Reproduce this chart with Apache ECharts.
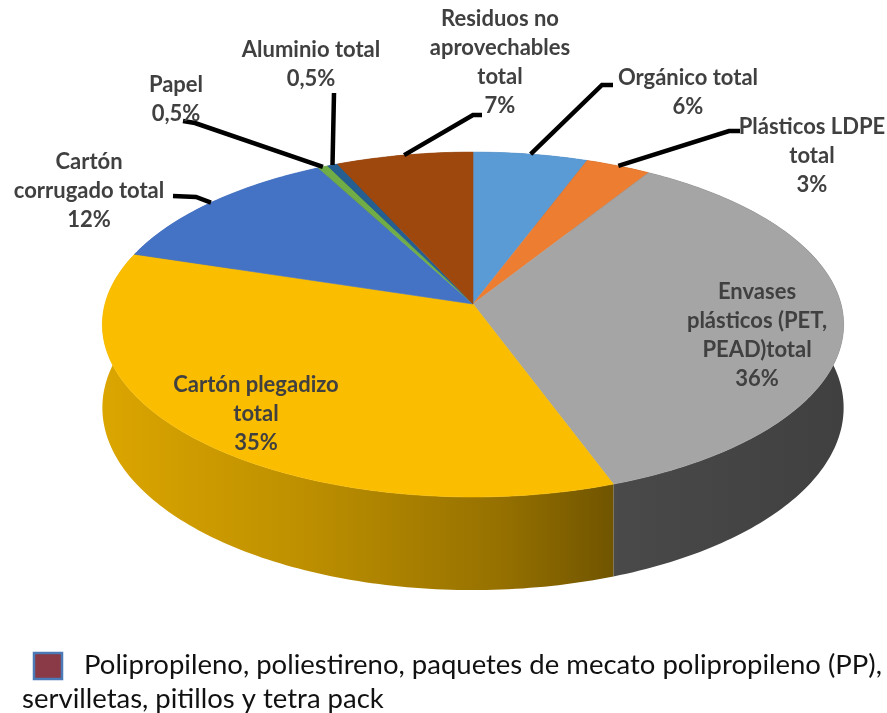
<!DOCTYPE html>
<html><head><meta charset="utf-8">
<script src="https://cdn.jsdelivr.net/npm/echarts@6/dist/echarts.min.js"></script>
<style>html,body{margin:0;padding:0;background:#fff}#c{width:887px;height:713px}</style>
</head><body><div id="c"></div>
<script>
// ---- data (percent of total; labels show rounded values) ----
const categories = ['Orgánico total','Plásticos LDPE total','Envases plásticos (PET, PEAD)total','Cartón plegadizo total','Cartón corrugado total','Papel','Aluminio total','Residuos no aprovechables total','Polipropileno, poliestireno, paquetes de mecato polipropileno (PP), servilletas, pitillos y tetra pack'];
const values = [5.6, 3.2, 35.7, 35.4, 12.4, 0.5, 0.5, 6.7, 0];
const labelLines = [['Orgánico total'],['Plásticos LDPE','total'],['Envases','plásticos (PET,','PEAD)total'],['Cartón plegadizo','total'],['Cartón','corrugado total'],['Papel'],['Aluminio total'],['Residuos no','aprovechables','total'],[]];
const legendLines = ['Polipropileno, poliestireno, paquetes de mecato polipropileno (PP),','servilletas, pitillos y tetra pack'];

// ---- style / layout ----
const colors = ['#5B9BD5','#ED7D31','#A5A5A5','#FABD00','#4472C4','#70AD47','#255E91','#9E480E','#8A3A46'];
const labelLayout = [
  {x:688, y:78,  pts:[[602,85],[613,85]]},
  {x:812, y:127, pts:[[729,131],[740,131]]},
  {x:757, y:292, pts:null},
  {x:256, y:385, pts:null},
  {x:89,  y:162, pts:[[196,197],[173,196]]},
  {x:176, y:85,  pts:[[195,123],[183,121]]},
  {x:311, y:50,  pts:[[334,93]]},
  {x:500, y:19,  pts:[[473,115],[482,115]]},
  null
];
const CX=473, CY=304, RX=368, RY=170, K=0.119, H=82;
const LH=29, FONT='Lato', FS=22;

function proj(theta, depth){
  const u=Math.sin(theta), v=-Math.cos(theta);
  const d=1-K*v;
  return [CX+RX*u/d, CY+(RY*v+depth)/d];
}
function shade(hex, f){
  const n=parseInt(hex.slice(1),16);
  const r=Math.round(((n>>16)&255)*f), g=Math.round(((n>>8)&255)*f), b=Math.round((n&255)*f);
  return 'rgb('+r+','+g+','+b+')';
}
const shadeStops=[[100,0.88],[300,0.76],[500,0.60],[620,0.44],[845,0.39]];
function wallFill(hex){
  const x0=shadeStops[0][0], x1=shadeStops[shadeStops.length-1][0];
  return new echarts.graphic.LinearGradient(x0,0,x1,0,
    shadeStops.map(s=>({offset:(s[0]-x0)/(x1-x0), color:shade(hex,s[1])})), true);
}
function pct(v){ return (v<1 ? v.toFixed(1).replace('.',',') : String(Math.round(v)))+'%'; }

const total = values.reduce((a,b)=>a+b,0);
let acc=0;
const items = values.map((v,i)=>{ const s=acc/total; acc+=v; return [s, acc/total, i]; });

function renderItem(params, api){
  const i = params.dataIndex;
  const a0 = api.value(0)*2*Math.PI, a1 = api.value(1)*2*Math.PI;
  const children=[];
  if (a1-a0 <= 0) return {type:'group', children};
  const n=Math.max(2, Math.ceil((a1-a0)/(Math.PI/180)));
  const top=[], bot=[];
  for(let j=0;j<=n;j++){ const t=a0+(a1-a0)*j/n; top.push(proj(t,0)); bot.push(proj(t,H)); }
  const vm=-Math.cos((a0+a1)/2);
  children.push({type:'polygon', z2:10+Math.round(vm*5), shape:{points:top.concat(bot.slice().reverse())},
    style:{fill:wallFill(colors[i]), stroke:null}});
  children.push({type:'polygon', z2:100, shape:{points:[[CX,CY]].concat(top)},
    style:{fill:colors[i], stroke:colors[i], lineWidth:0.6}});
  const L=labelLayout[i];
  if(L){
    const lines=labelLines[i].concat([pct(values[i])]);
    lines.forEach((t,k)=>{
      children.push({type:'text', z2:300, x:L.x, y:L.y+k*LH,
        style:{text:t, fill:'#404040', fontFamily:FONT, fontWeight:'bold', fontSize:FS, align:'center', verticalAlign:'middle'}});
    });
    if(L.pts){
      const start=proj((a0+a1)/2,0);
      children.push({type:'polyline', z2:200, shape:{points:[start].concat(L.pts)},
        style:{stroke:'#000', lineWidth:4.5, fill:null, lineJoin:'miter', lineCap:'butt'}});
    }
  }
  return {type:'group', children};
}

const chart = echarts.init(document.getElementById('c'), null, {renderer:'canvas'});
chart.setOption({
  backgroundColor:'#fff',
  animation:false,
  series:[{
    type:'custom', coordinateSystem:'none', silent:true,
    data: items, renderItem
  }],
  graphic:[
    {type:'rect', x:34, y:653, shape:{x:0,y:0,width:28,height:26}, style:{fill:colors[8], stroke:'#4A7AB8', lineWidth:2.5}},
    {type:'text', x:84, y:665, style:{text:legendLines[0], fill:'#111', fontFamily:FONT, fontSize:27.5, verticalAlign:'middle'}},
    {type:'text', x:22, y:699, style:{text:legendLines[1], fill:'#111', fontFamily:FONT, fontSize:27.5, verticalAlign:'middle'}}
  ]
});
</script></body></html>
